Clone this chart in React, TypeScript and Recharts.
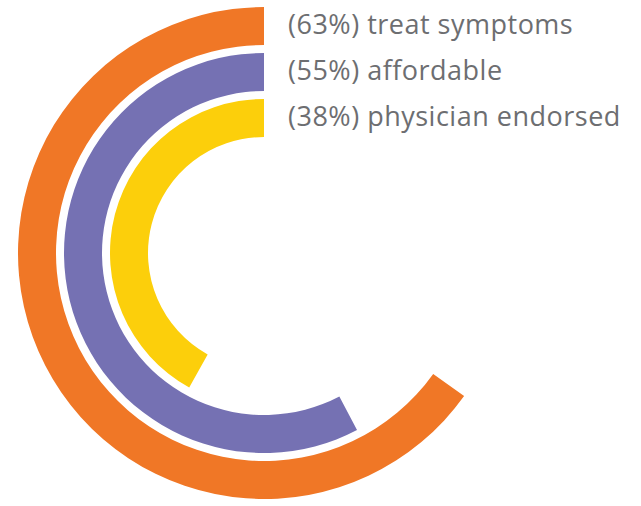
import { RadialBarChart, RadialBar, PolarAngleAxis, PolarRadiusAxis, LabelList, Cell } from "recharts";

const categories = ["treat symptoms", "affordable", "physician endorsed"];
const shares = [63, 55, 38];
const colors = ["#F07726", "#7571B3", "#FCCF0B"];

// the arcs all start a little before zero on the angle scale
const ARC_ORIGIN = -7.2;
const ANGLE_DOMAIN: [number, number] = [ARC_ORIGIN, 100.6];

// innermost ring first (radius band order)
const data = categories
  .map((name, i) => ({ name, share: shares[i], range: [ARC_ORIGIN, shares[i]], fill: colors[i] }))
  .reverse();

function RingLabel(props: any) {
  const vb = props.viewBox ?? props;
  const { cx, cy, innerRadius, outerRadius } = vb;
  const entry = data[props.index];
  if (cx == null || !entry) return null;
  const y = cy - (innerRadius + outerRadius) / 2;
  return (
    <text
      x={cx + 24}
      y={y + 8}
      fill="#6d6e71"
      fontSize={27}
      letterSpacing={0.5}
      fontFamily="'Open Sans', sans-serif"
    >
      {`(${entry.share}%) ${entry.name}`}
    </text>
  );
}

export default function App() {
  return (
    <div style={{ position: "absolute", left: 0, top: 0, width: 641, height: 506, background: "#fff" }}>
      <RadialBarChart
        width={641}
        height={506}
        cx={264}
        cy={253}
        innerRadius={112}
        outerRadius={250}
        startAngle={90}
        endAngle={450}
        data={data}
        barSize={38}
        margin={{ top: 0, right: 0, bottom: 0, left: 0 }}
      >
        <PolarAngleAxis type="number" domain={ANGLE_DOMAIN} tick={false} axisLine={false} />
        <PolarRadiusAxis type="category" dataKey="name" tick={false} axisLine={false} />
        <RadialBar dataKey="range" isAnimationActive={false}>
          {data.map((d) => (
            <Cell key={d.name} fill={d.fill} />
          ))}
          <LabelList dataKey="share" content={<RingLabel />} />
        </RadialBar>
      </RadialBarChart>
    </div>
  );
}
